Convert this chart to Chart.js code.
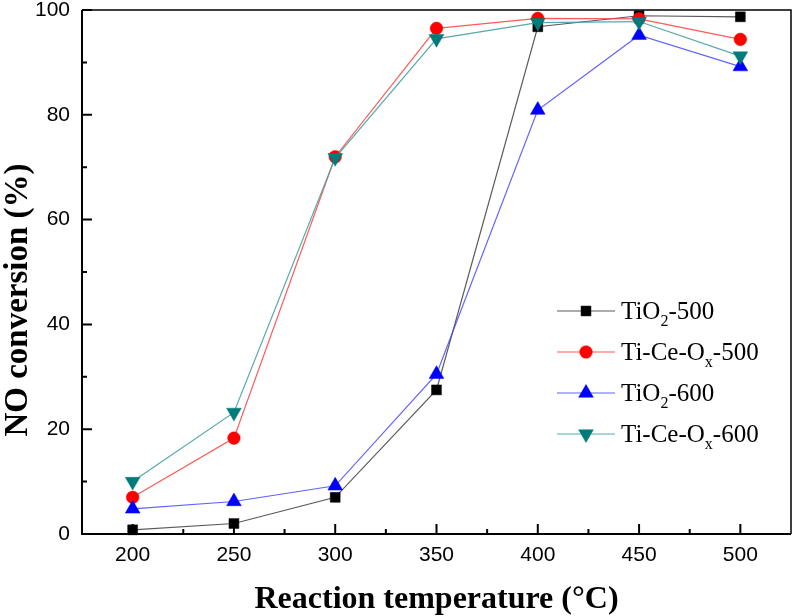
<!DOCTYPE html>
<html>
<head>
<meta charset="utf-8">
<script src="https://cdn.jsdelivr.net/npm/chart.js@4.4.1/dist/chart.umd.min.js"></script>
<style>
  html, body { margin: 0; padding: 0; background: #ffffff; }
  #wrap { width: 800px; height: 616px; position: relative; }
</style>
</head>
<body>
<div id="wrap"><canvas id="c" width="800" height="616"></canvas></div>
<script>
// ---- data ----
const temps = [200, 250, 300, 350, 400, 450, 500];
const tio2_500 = [0.8, 2.0, 7.0, 27.5, 96.8, 98.9, 98.7];
const tice_500 = [7.0, 18.3, 72.0, 96.5, 98.4, 98.3, 94.4];
const tio2_600 = [4.8, 6.2, 9.2, 30.5, 80.9, 95.2, 89.2];
const tice_600 = [10.0, 23.2, 71.8, 94.5, 97.6, 97.8, 91.2];

const xMajorTicks = [200, 250, 300, 350, 400, 450, 500];
const xMinorTicks = [225, 275, 325, 375, 425, 475];
const yMajorTicks = [0, 20, 40, 60, 80, 100];
const yMinorTicks = [10, 30, 50, 70, 90];

const xTitle = 'Reaction temperature (°C)';
const yTitle = 'NO conversion (%)';

const seriesNames = [
  ['TiO', '2', '-500'],
  ['Ti-Ce-O', 'x', '-500'],
  ['TiO', '2', '-600'],
  ['Ti-Ce-O', 'x', '-600']
];

const toPts = arr => temps.map((t, i) => ({ x: t, y: arr[i] }));

const styles = [
  { line: 'rgba(0,0,0,0.65)', fill: '#000000', style: 'rect', radius: 7, rot: 0 },
  { line: 'rgba(255,60,60,0.85)', fill: '#ff0000', style: 'circle', radius: 6.3, rot: 0 },
  { line: 'rgba(70,70,255,0.85)', fill: '#0000ff', style: 'triangle', radius: 8.5, rot: 0 },
  { line: 'rgba(70,160,160,0.9)', fill: '#007b7b', style: 'triangle', radius: 8.5, rot: 180 }
];

const allData = [tio2_500, tice_500, tio2_600, tice_600];
const drawOrder = [3, 2, 1, 0];

const datasets = allData.map((arr, i) => ({
  label: seriesNames[i].join(''),
  data: toPts(arr),
  borderColor: styles[i].line,
  borderWidth: 1.2,
  backgroundColor: styles[i].fill,
  pointBackgroundColor: styles[i].fill,
  pointBorderColor: styles[i].fill,
  pointBorderWidth: 0.5,
  pointStyle: styles[i].style,
  pointRadius: styles[i].radius,
  pointRotation: styles[i].rot,
  pointHoverRadius: styles[i].radius,
  tension: 0,
  clip: false,
  order: drawOrder[i]
}));

const framePlugin = {
  id: 'frame',
  afterDraw(chart) {
    const ctx = chart.ctx;
    const a = chart.chartArea;
    const xs = chart.scales.x, ys = chart.scales.y;
    ctx.save();
    ctx.strokeStyle = '#000';
    ctx.lineWidth = 1.5;
    ctx.beginPath();
    ctx.moveTo(a.left, a.top); ctx.lineTo(a.right, a.top); ctx.lineTo(a.right, a.bottom);
    ctx.stroke();
    ctx.lineWidth = 2;
    ctx.beginPath();
    ctx.moveTo(a.left, a.top); ctx.lineTo(a.left, a.bottom); ctx.lineTo(a.right, a.bottom);
    ctx.stroke();
    ctx.beginPath();
    xMajorTicks.forEach(v => { const p = xs.getPixelForValue(v); ctx.moveTo(p, a.bottom); ctx.lineTo(p, a.bottom - 10); });
    xMinorTicks.forEach(v => { const p = xs.getPixelForValue(v); ctx.moveTo(p, a.bottom); ctx.lineTo(p, a.bottom - 5); });
    yMajorTicks.forEach(v => { const p = ys.getPixelForValue(v); ctx.moveTo(a.left, p); ctx.lineTo(a.left + 10, p); });
    yMinorTicks.forEach(v => { const p = ys.getPixelForValue(v); ctx.moveTo(a.left, p); ctx.lineTo(a.left + 5, p); });
    ctx.stroke();
    // y axis title
    ctx.fillStyle = '#000';
    ctx.translate(18, 300);
    ctx.rotate(-Math.PI / 2);
    ctx.font = 'bold 33px "Liberation Serif", "Times New Roman", serif';
    ctx.textAlign = 'center';
    ctx.textBaseline = 'middle';
    ctx.fillText(yTitle, 0, 0);
    ctx.restore();
  }
};

const legendPlugin = {
  id: 'customLegend',
  afterDraw(chart) {
    const ctx = chart.ctx;
    const x0 = 557, x1 = 615, xm = 586, xt = 621;
    const y0 = 311, dy = 41;
    ctx.save();
    seriesNames.forEach((parts, i) => {
      const y = y0 + i * dy;
      const s = styles[i];
      ctx.strokeStyle = s.line;
      ctx.lineWidth = 1.2;
      ctx.beginPath(); ctx.moveTo(x0, y); ctx.lineTo(x1, y); ctx.stroke();
      ctx.fillStyle = s.fill; ctx.strokeStyle = s.fill; ctx.lineWidth = 0.5;
      Chart.helpers.drawPoint(ctx, { pointStyle: s.style, radius: s.radius, rotation: s.rot, borderWidth: 0.5 }, xm, y);
      ctx.fillStyle = '#000';
      ctx.textBaseline = 'alphabetic';
      ctx.textAlign = 'left';
      let x = xt;
      const base = y + 8;
      ctx.font = '25px "Liberation Serif", "Times New Roman", serif';
      ctx.fillText(parts[0], x, base); x += ctx.measureText(parts[0]).width;
      ctx.font = '16px "Liberation Serif", "Times New Roman", serif';
      ctx.fillText(parts[1], x, base + 7); x += ctx.measureText(parts[1]).width;
      ctx.font = '25px "Liberation Serif", "Times New Roman", serif';
      ctx.fillText(parts[2], x, base);
    });
    ctx.restore();
  }
};

new Chart(document.getElementById('c'), {
  type: 'line',
  data: { datasets },
  options: {
    responsive: false,
    animation: false,
    devicePixelRatio: 1,
    layout: { padding: { top: 10, right: 2, left: 0, bottom: 0 } },
    plugins: { legend: { display: false }, tooltip: { enabled: false } },
    scales: {
      x: {
        type: 'linear',
        min: 175, max: 525,
        afterBuildTicks: s => { s.ticks = xMajorTicks.map(v => ({ value: v })); },
        afterFit: s => { s.height = 82; s.paddingLeft = 0; s.paddingRight = 0; },
        grid: { display: false, drawTicks: false },
        border: { display: false },
        ticks: { color: '#000', padding: 9, font: { family: '"Liberation Sans", Arial, sans-serif', size: 21 } },
        title: { display: true, text: xTitle, color: '#000', padding: 0,
          font: { family: '"Liberation Serif", "Times New Roman", serif', size: 32, weight: 'bold', lineHeight: 1 } }
      },
      y: {
        type: 'linear',
        min: 0, max: 100,
        afterBuildTicks: s => { s.ticks = yMajorTicks.map(v => ({ value: v })); },
        afterFit: s => { s.width = 82; s.paddingTop = 0; s.paddingBottom = 0; },
        grid: { display: false, drawTicks: false },
        border: { display: false },
        ticks: { color: '#000', padding: 12, font: { family: '"Liberation Sans", Arial, sans-serif', size: 21 } },
        title: { display: false }
      }
    }
  },
  plugins: [framePlugin, legendPlugin]
});
</script>
</body>
</html>
